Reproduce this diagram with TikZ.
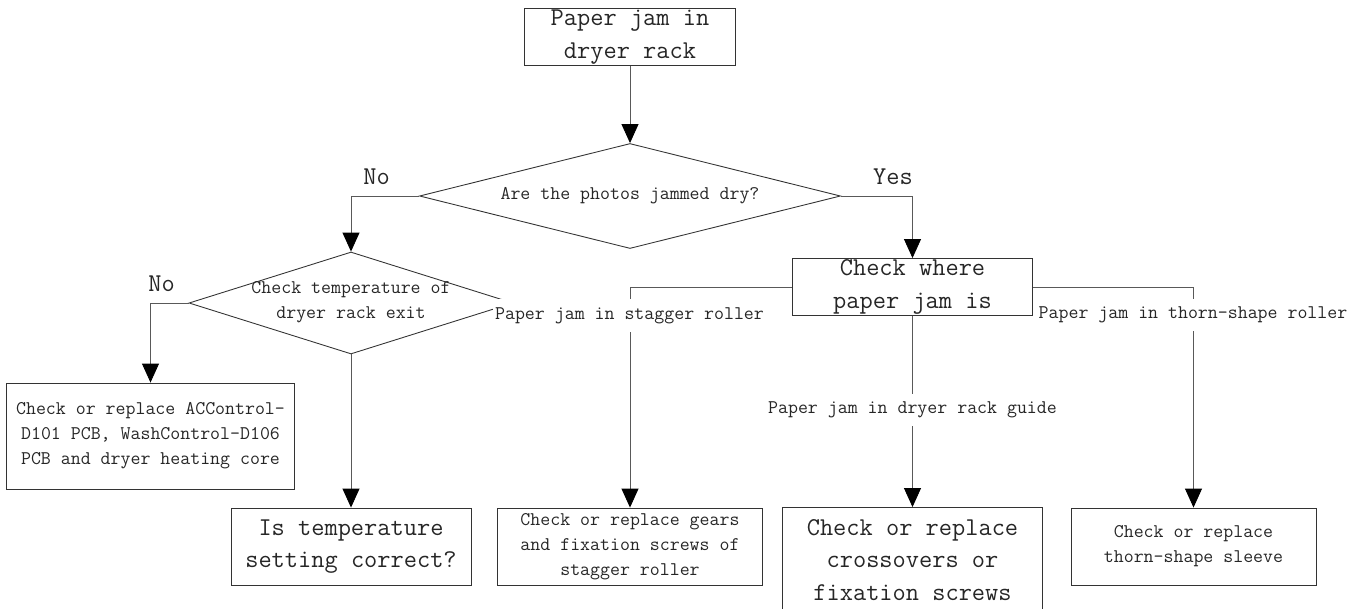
\documentclass[tikz,border=0pt]{standalone}
\usepackage{amssymb}
\usepackage{amsmath}
\usetikzlibrary{shapes.geometric,arrows.meta}

\begin{document}
\begin{tikzpicture}[
		>={Triangle[width=0.34cm,length=0.38cm,color=black]}, line width=0.5pt,
		bigtxt/.style={font=\ttfamily\fontsize{14.6}{18.5}\selectfont, align=center, text=black!85},
		smalltxt/.style={font=\ttfamily\fontsize{11}{14.2}\selectfont, align=center, text=black!85},
		bigbox/.style={draw=black!80, bigtxt, inner sep=0pt},
		smallbox/.style={draw=black!80, smalltxt, inner sep=0pt},
		decision/.style={draw=black!80, diamond, inner sep=0pt},
		flow/.style={->, draw=black!65},
		branch/.style={smalltxt, fill=white, inner xsep=1pt, inner ysep=4.5pt}]
		\useasboundingbox (0,0) rectangle (27.3,-12.18);
		\node[bigbox, minimum width=4.22cm, minimum height=1.14cm] (jam) at (12.6,-0.74) {Paper jam in\\dryer rack};
		\node[decision, minimum width=8.42cm, minimum height=2.1cm] (dry) at (12.6,-3.92) {};
		\node[smalltxt] (drytxt) at (dry) {Are the photos jammed dry?};
		\node[decision, minimum width=6.48cm, minimum height=2.04cm] (exittemp) at (7.02,-6.06) {};
		\node[smalltxt] (exittemptxt) at (7.02,-6.04) {Check temperature of\\dryer rack exit};
		\node[bigbox, minimum width=4.8cm, minimum height=1.14cm] (where) at (18.25,-5.74) {Check where\\paper jam is};
		\node[smallbox, minimum width=5.76cm, minimum height=2.12cm] (pcb) at (3.01,-8.72) {Check or replace ACControl-\\D101 PCB, WashControl-D106\\PCB and dryer heating core};
		\node[bigbox, minimum width=4.8cm, minimum height=1.54cm] (setting) at (7.02,-10.93) {Is temperature\\setting correct?};
		\node[smallbox, minimum width=5.3cm, minimum height=1.54cm] (gears) at (12.6,-10.93) {Check or replace gears\\and fixation screws of\\stagger roller};
		\node[bigbox, minimum width=5.19cm, minimum height=2.1cm] (cross) at (18.25,-11.2) {Check or replace\\crossovers or\\fixation screws};
		\node[smallbox, minimum width=4.9cm, minimum height=1.54cm] (sleeve) at (23.87,-10.93) {Check or replace\\thorn-shape sleeve};
		\draw[flow] (jam) -- (dry);
		\draw[flow] (dry.west) -| (exittemp.north);
		\draw[flow] (dry.east) -| (where.north);
		\draw[flow] (exittemp.west) -| (pcb.north);
		\draw[flow] (exittemp.south) -- (setting.north);
		\draw[flow] (where.west) -| (gears.north);
		\draw[flow] (where.south) -- (cross.north);
		\draw[flow] (where.east) -| (sleeve.north);
		\node[bigtxt] (no1) at (7.53,-3.54) {No};
		\node[bigtxt] (yes) at (17.86,-3.54) {Yes};
		\node[bigtxt] (no2) at (3.23,-5.67) {No};
		\node[branch] (stagger) at (12.59,-6.31) {Paper jam in stagger roller};
		\node[branch] (guide) at (18.25,-8.2) {Paper jam in dryer rack guide};
		\node[branch] (thorn) at (23.86,-6.3) {Paper jam in thorn-shape roller};
\end{tikzpicture}
\end{document}
